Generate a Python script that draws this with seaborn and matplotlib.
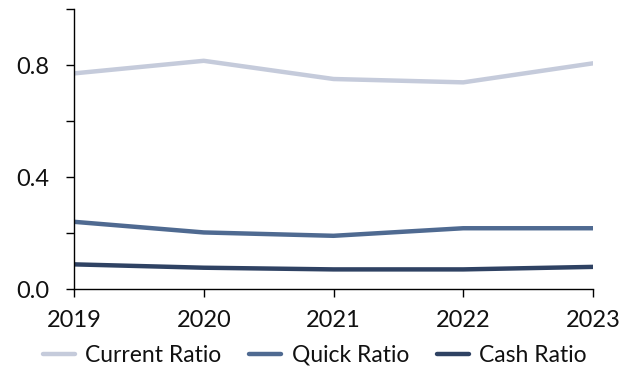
import pandas as pd
import matplotlib.pyplot as plt
import seaborn as sns

# Dados dos índices de liquidez
anos = [2019, 2020, 2021, 2022, 2023]
current_ratio = [0.77, 0.815, 0.75, 0.738, 0.806]
quick_ratio = [0.24, 0.202, 0.19, 0.217, 0.217]
cash_ratio = [0.088, 0.076, 0.070, 0.070, 0.079]
series = ['Current Ratio', 'Quick Ratio', 'Cash Ratio']
cores = ['#c5cbdb', '#4f6a91', '#2f4263']

df = pd.DataFrame({'Ano': anos, series[0]: current_ratio,
                   series[1]: quick_ratio, series[2]: cash_ratio})
df_long = df.melt(id_vars='Ano', var_name='Indice', value_name='Valor')

sns.set_style('ticks')
plt.rcParams['font.family'] = ['Lato', 'DejaVu Sans']

fig = plt.figure(figsize=(6.2, 3.72), dpi=100)
ax = fig.add_axes([74 / 620, 1 - 289 / 372, (593 - 74) / 620, (289 - 9) / 372])
sns.lineplot(data=df_long, x='Ano', y='Valor', hue='Indice', hue_order=series,
             palette=cores, linewidth=3.2, ax=ax)

ax.set_xlim(2019, 2023)
ax.set_ylim(0, 1.0)
ax.set_xticks(anos)
ax.set_yticks([0, 0.2, 0.4, 0.6, 0.8, 1.0])
ax.set_yticklabels(['0.0', '', '0.4', '', '0.8', ''])
ax.tick_params(axis='both', labelsize=17, color='black', labelcolor='#111111',
               length=6, width=1)
ax.tick_params(axis='x', pad=9)
ax.tick_params(axis='y', pad=12)
ax.set_xlabel('')
ax.set_ylabel('')
for s in ['top', 'right']:
    ax.spines[s].set_visible(False)
for s in ['left', 'bottom']:
    ax.spines[s].set_color('black')
    ax.spines[s].set_linewidth(1)

leg = ax.legend(loc='center', bbox_to_anchor=(0.464, -0.236), ncol=3, frameon=False,
                fontsize=16.5, handlelength=1.4, columnspacing=1.2, handletextpad=0.45,
                borderaxespad=0, borderpad=0)
for linha in leg.get_lines():
    linha.set_linewidth(3.2)
for t in leg.get_texts():
    t.set_color('#111111')

fig.savefig('out.png', dpi=100)
